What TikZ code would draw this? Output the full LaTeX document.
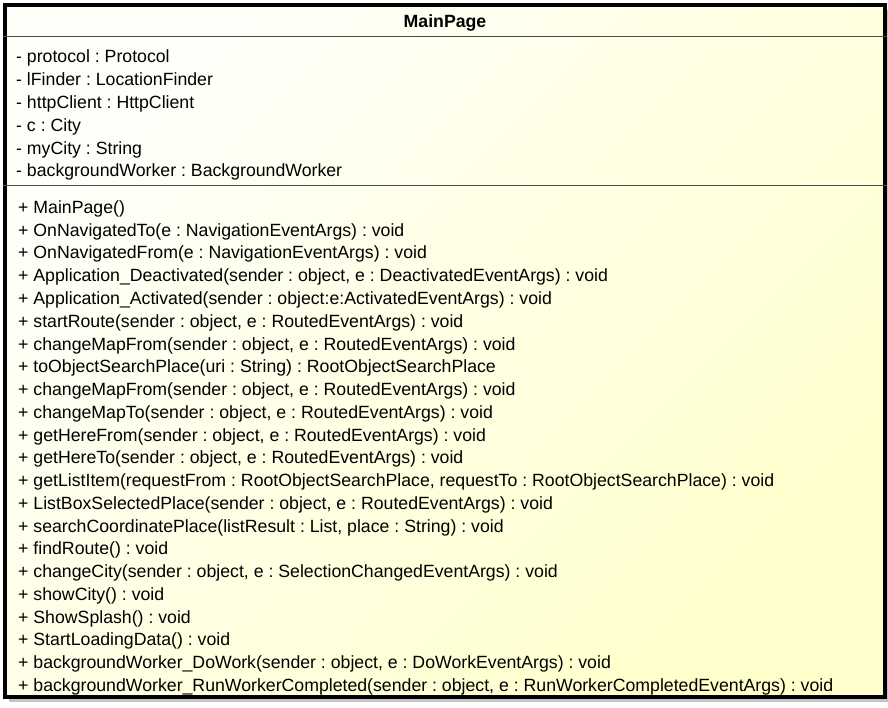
\documentclass[tikz,border=0pt]{standalone}
\usepackage{fontspec}
\setmainfont{Liberation Sans}
\usetikzlibrary{shadows}
\definecolor{ClassFillTop}{HTML}{FFFFFA}
\definecolor{ClassFillBottom}{HTML}{FFFFCC}
\definecolor{ClassShadow}{HTML}{C4C4C4}
\frenchspacing

\begin{document}
\begin{tikzpicture}[x=1pt,y=-1pt,
  font=\fontsize{17.7}{21}\selectfont,
  classbox/.style={draw=black,line width=4pt,minimum width=880pt,
    minimum height=692pt,inner sep=0pt,
    left color=ClassFillTop,right color=ClassFillBottom,shading angle=45,
    drop shadow={shadow xshift=4pt,shadow yshift=-5pt,fill=ClassShadow,opacity=1}},
  member/.style={anchor=base west,inner sep=0pt},
  rule/.style={draw=black!70,line width=1pt}]
  \path[use as bounding box] (0,0) rectangle (888,708);
  \node[classbox] (mainpage) at (445,351) {};
  \node[font=\fontsize{17.7}{21}\selectfont\bfseries,anchor=base,inner sep=0pt]
    (title) at (445,28) {MainPage};
  \draw[rule] (mainpage.west |- 0,37) -- (mainpage.east |- 0,37);
  \draw[rule] (mainpage.west |- 0,186) -- (mainpage.east |- 0,186);
  % attributes
  \foreach \t [count=\i] in {{- protocol : Protocol},{- lFinder : LocationFinder},
      {- httpClient : HttpClient},{- c : City},{- myCity : String},
      {- backgroundWorker : BackgroundWorker}}
    \node[member] (attr\i) at (16,{63+22.8*(\i-1)}) {\t};
  % operations
  \foreach \t [count=\i] in {{+ MainPage()},
      {+ OnNavigatedTo(e : NavigationEventArgs) : void},
      {+ OnNavigatedFrom(e : NavigationEventArgs) : void},
      {+ Application\_Deactivated(sender : object, e : DeactivatedEventArgs) : void},
      {+ Application\_Activated(sender : object:e:ActivatedEventArgs) : void},
      {+ startRoute(sender : object, e : RoutedEventArgs) : void},
      {+ changeMapFrom(sender : object, e : RoutedEventArgs) : void},
      {+ toObjectSearchPlace(uri : String) : RootObjectSearchPlace},
      {+ changeMapFrom(sender : object, e : RoutedEventArgs) : void},
      {+ changeMapTo(sender : object, e : RoutedEventArgs) : void},
      {+ getHereFrom(sender : object, e : RoutedEventArgs) : void},
      {+ getHereTo(sender : object, e : RoutedEventArgs) : void},
      {+ getListItem(requestFrom : RootObjectSearchPlace, requestTo : RootObjectSearchPlace) : void},
      {+ ListBoxSelectedPlace(sender : object, e : RoutedEventArgs) : void},
      {+ searchCoordinatePlace(listResult : List, place : String) : void},
      {+ findRoute() : void},
      {+ changeCity(sender : object, e : SelectionChangedEventArgs) : void},
      {+ showCity() : void},
      {+ ShowSplash() : void},
      {+ StartLoadingData() : void},
      {+ backgroundWorker\_DoWork(sender : object, e : DoWorkEventArgs) : void},
      {+ backgroundWorker\_RunWorkerCompleted(sender : object, e : RunWorkerCompletedEventArgs) : void}}
    \node[member] (op\i) at (18,{213.5+22.75*(\i-1)}) {\t};
\end{tikzpicture}
\end{document}
